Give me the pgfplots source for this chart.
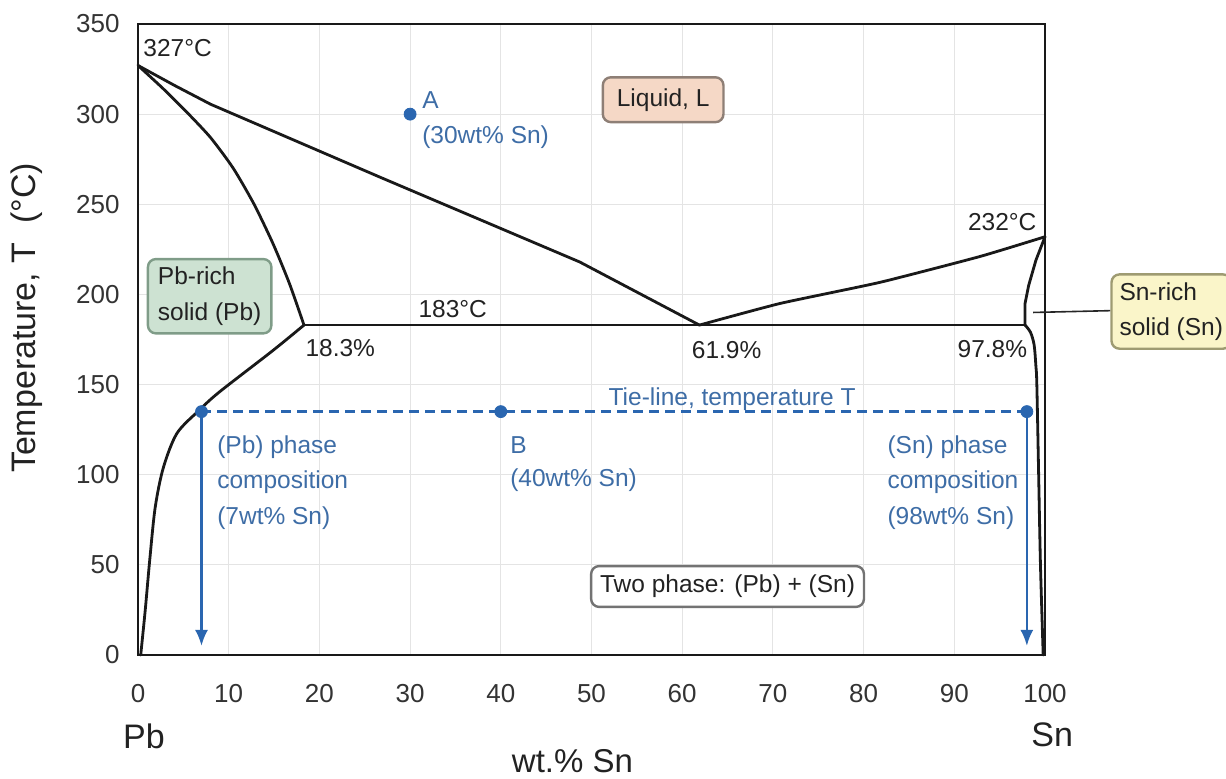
\documentclass[border=0pt]{standalone}
\usepackage{fontspec}
\setmainfont{Liberation Sans}
\usepackage{pgfplots}
\pgfplotsset{compat=1.18}
\usetikzlibrary{arrows.meta}

\definecolor{gridgray}{HTML}{E4E4E4}
\definecolor{tieblue}{HTML}{2A66B0}
\definecolor{labelblue}{HTML}{3E6DA6}
\definecolor{liqfill}{HTML}{F5D8C6}
\definecolor{liqdraw}{HTML}{8E7F76}
\definecolor{pbfill}{HTML}{CDE2D2}
\definecolor{pbdraw}{HTML}{7F9C88}
\definecolor{snfill}{HTML}{FAF5C9}
\definecolor{sndraw}{HTML}{9E9B72}
\definecolor{txt}{HTML}{222222}

\begin{document}
\begin{tikzpicture}[
  phase/.style={black!90, line width=1.4pt, line join=round, line cap=round},
  lbl/.style={font=\fontsize{12.25}{17.75}\selectfont, text=txt, inner sep=0pt},
  blbl/.style={lbl, text=labelblue, align=left},
  phasebox/.style={lbl, rounded corners=4pt, line width=1.2pt, align=left}
]
\begin{axis}[
  at={(0,0)}, anchor=south west,
  scale only axis, width=453.5pt, height=315.5pt,
  xmin=0, xmax=100, ymin=0, ymax=350,
  xtick={0,10,...,100}, ytick={0,50,...,350},
  grid=major, major grid style={gridgray, line width=0.5pt},
  major tick length=0pt,
  axis line style={line width=1.4pt, black!90},
  tick label style={font=\fontsize{13}{15}\selectfont, text=black!80},
  /pgf/number format/assume math mode=true,
  xticklabel style={anchor=center, yshift=-19.5pt},
  yticklabel style={anchor=east, inner sep=0pt, xshift=-9pt},
  clip=false,
]

% liquidus, Pb side
\addplot[phase] coordinates {(0,327) (4,316) (8,305.5) (26.7,265) (48.7,218) (61.9,183)};
% solidus, Pb side
\addplot[phase, smooth, tension=0.4] coordinates {(0,327) (2.8,314) (5.4,301) (8,287) (10.5,270) (12.8,250) (14.9,228) (16.7,206) (18.3,183)};
% solvus, Pb side
\addplot[phase, smooth, tension=0.5] coordinates {(18.3,183) (14.9,169) (9.0,146) (6.8,136) (4.3,123) (2.8,104) (1.9,82) (1.3,53) (0.8,25) (0.3,0)};
% liquidus, Sn side
\addplot[phase, smooth, tension=0.3] coordinates {(61.9,183) (70.8,195) (81.8,206.7) (92.8,221) (100,232)};
% solidus, Sn side
\addplot[phase] coordinates {(100,232) (99,219) (98.2,205) (97.8,195) (97.8,183)};
% solvus, Sn side
\addplot[phase, smooth, tension=0.5] coordinates {(97.8,183) (98.4,179) (98.8,172) (99.0,160) (99.1,150) (99.3,100) (99.5,50) (99.8,0)};
% eutectic isotherm
\addplot[phase] coordinates {(18.3,183) (97.8,183)};

% tie-line at temperature T
\addplot[tieblue, line width=1.2pt, dash pattern=on 5pt off 3pt] coordinates {(7,135) (98,135)};
\addplot[tieblue, line width=1.3pt, -{Latex[length=8pt,width=6.5pt]}] coordinates {(7,135) (7,5)};
\addplot[tieblue, line width=1.3pt, -{Latex[length=8pt,width=6.5pt]}] coordinates {(98,135) (98,5)};
\addplot[only marks, mark=*, mark size=3pt, tieblue] coordinates {(7,135) (40,135) (98,135)};
% alloy A
\addplot[only marks, mark=*, mark size=3pt, tieblue] coordinates {(30,300)};

% temperatures and compositions
\node[lbl, anchor=west] at (axis cs:0.55,336.5) {327°C};
\node[lbl, anchor=east] at (axis cs:99.1,240) {232°C};
\node[lbl] at (axis cs:34.7,191.7) {183°C};
\node[lbl] at (axis cs:22.3,170) {18.3\%};
\node[lbl] at (axis cs:64.9,169) {61.9\%};
\node[lbl] at (axis cs:94.2,169.5) {97.8\%};

% phase regions
\node[phasebox, draw=liqdraw, fill=liqfill, inner xsep=7pt, inner ysep=5.5pt] at (axis cs:57.9,308) {Liquid, L};
\node[phasebox, draw=pbdraw, fill=pbfill, inner xsep=5pt, inner ysep=4pt] at (axis cs:7.9,199) {Pb-rich\\solid (Pb)};
\node[phasebox, draw=black!55, fill=white, inner xsep=4.5pt, inner ysep=4.5pt] at (axis cs:65.0,38) {Two phase: (Pb) + (Sn)};
\draw[black!85, line width=0.8pt] (axis cs:98.7,190) -- (axis cs:107.2,191);
\node[phasebox, draw=sndraw, fill=snfill, inner xsep=4pt, inner ysep=4pt, anchor=west] at (axis cs:107.2,190.5) {Sn-rich\\solid (Sn)};

% alloy and phase annotations
\node[blbl, anchor=west] at (axis cs:31.3,308) {A};
\node[blbl, anchor=west] at (axis cs:31.3,287) {(30wt\% Sn)};
\node[blbl] at (axis cs:65.5,142) {Tie-line, temperature T};
\node[blbl, anchor=west] at (axis cs:8.7,95.6) {(Pb) phase\\composition\\(7wt\% Sn)};
\node[blbl, anchor=west] at (axis cs:41.0,116.7) {B};
\node[blbl, anchor=west] at (axis cs:41.0,97) {(40wt\% Sn)};
\node[blbl, anchor=west] at (axis cs:82.6,95.6) {(Sn) phase\\composition\\(98wt\% Sn)};

% axis titles
\node[font=\fontsize{17}{20}\selectfont, text=txt, rotate=90] at (axis cs:-12.24,187) {Temperature, T\ \ (°C)};
\node[font=\fontsize{16.5}{20}\selectfont, text=txt] at (axis cs:47.9,-58.8) {wt.\% Sn};
\node[font=\fontsize{17}{20}\selectfont, text=txt] at (axis cs:0.66,-45) {Pb};
\node[font=\fontsize{17}{20}\selectfont, text=txt] at (axis cs:100.8,-44.5) {Sn};
\end{axis}
\pgfresetboundingbox
\path (-69pt,-61.5pt) rectangle (544pt,327.5pt);
\end{tikzpicture}
\end{document}
